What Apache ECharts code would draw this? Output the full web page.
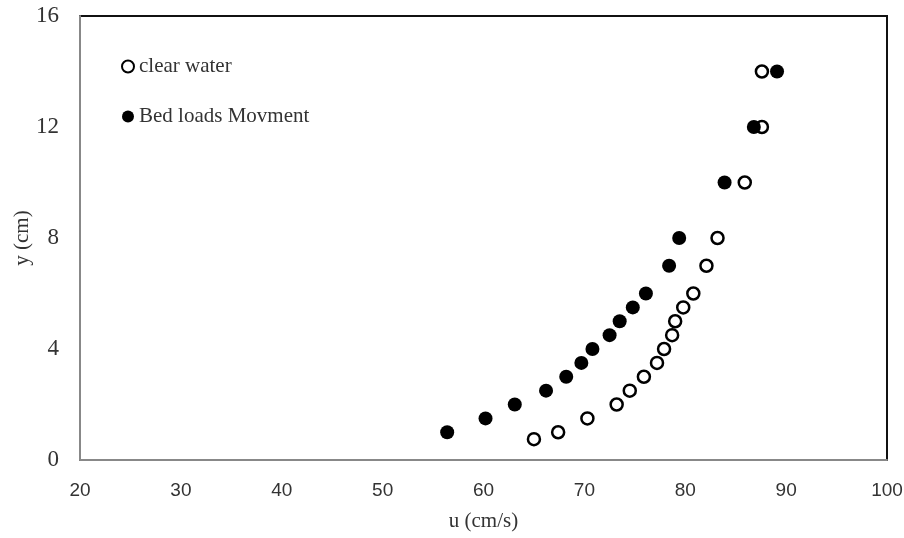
<!DOCTYPE html>
<html>
<head>
<meta charset="utf-8">
<script src="https://cdn.jsdelivr.net/npm/echarts@6/dist/echarts.min.js"></script>
<style>
  html, body { margin: 0; padding: 0; background: #fff; }
  #chart { width: 904px; height: 538px; }
</style>
</head>
<body>
<div id="chart"></div>
<script>
// Velocity profiles: flow depth y (cm) against velocity u (cm/s)
const clearWaterU = [65.0, 67.4, 70.3, 73.2, 74.5, 75.9, 77.2, 77.9, 78.7, 79.0, 79.8, 80.8, 82.1, 83.2, 85.9, 87.6, 87.6];
const clearWaterY = [0.75, 1, 1.5, 2, 2.5, 3, 3.5, 4, 4.5, 5, 5.5, 6, 7, 8, 10, 12, 14];
const bedLoadU = [56.4, 60.2, 63.1, 66.2, 68.2, 69.7, 70.8, 72.5, 73.5, 74.8, 76.1, 78.4, 79.4, 83.9, 86.8, 89.1];
const bedLoadY = [1, 1.5, 2, 2.5, 3, 3.5, 4, 4.5, 5, 5.5, 6, 7, 8, 10, 12, 14];

const seriesNames = ['clear water', 'Bed loads Movment'];
const xTicks = { min: 20, max: 100, step: 10 };
const yTicks = { min: 0, max: 16, step: 4 };

const pairs = (xs, ys) => xs.map((x, i) => [x, ys[i]]);

const serif = '"Liberation Serif", "Times New Roman", serif';
const sans = '"Liberation Sans", Arial, sans-serif';
const chart = echarts.init(document.getElementById('chart'));

chart.setOption({
  animation: false,
  backgroundColor: '#fff',
  grid: {
    left: 80, right: 17, top: 16, bottom: 78,
    containLabel: false,
    outerBoundsMode: 'none',
    show: true, borderColor: '#111', borderWidth: 2
  },
  legend: {
    orient: 'vertical',
    left: 116, top: 51,
    itemWidth: 12, itemHeight: 12, itemGap: 29,
    icon: 'circle',
    textStyle: { fontFamily: serif, fontSize: 21, color: '#333', padding: [0, 0, 0, 0] },
    data: seriesNames
  },
  xAxis: {
    type: 'value',
    min: xTicks.min, max: xTicks.max, interval: xTicks.step,
    name: 'u (cm/s)', nameLocation: 'middle', nameGap: 51, nameMoveOverlap: false,
    nameTextStyle: { fontFamily: serif, fontSize: 21, color: '#333' },
    axisLine: { show: true, lineStyle: { color: '#888', width: 2 } },
    axisTick: { show: false },
    splitLine: { show: false },
    axisLabel: { margin: 21, fontFamily: sans, fontSize: 19, color: '#333' }
  },
  yAxis: {
    type: 'value',
    min: yTicks.min, max: yTicks.max, interval: yTicks.step,
    name: 'y (cm)', nameLocation: 'middle', nameGap: 47, nameRotate: 90, nameMoveOverlap: false,
    nameTextStyle: { fontFamily: serif, fontSize: 21, color: '#333' },
    axisLine: { show: true, lineStyle: { color: '#888', width: 2 } },
    axisTick: { show: false },
    splitLine: { show: false },
    axisLabel: { margin: 21, fontFamily: serif, fontSize: 23, color: '#333' }
  },
  series: [
    {
      name: seriesNames[0],
      type: 'scatter',
      symbol: 'circle',
      symbolSize: 12,
      itemStyle: { color: '#fff', borderColor: '#000', borderWidth: 2.5, opacity: 1 },
      data: pairs(clearWaterU, clearWaterY)
    },
    {
      name: seriesNames[1],
      type: 'scatter',
      symbol: 'circle',
      symbolSize: 14,
      itemStyle: { color: '#000', opacity: 1 },
      data: pairs(bedLoadU, bedLoadY)
    }
  ]
});
</script>
</body>
</html>
